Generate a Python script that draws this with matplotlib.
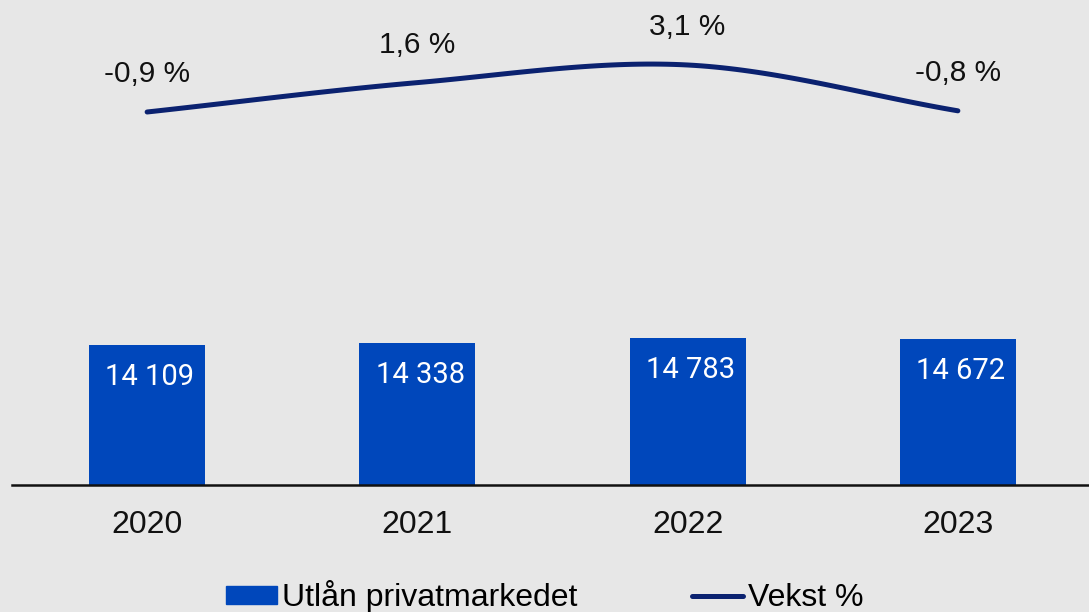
import numpy as np
import matplotlib
matplotlib.use("Agg")
import matplotlib.pyplot as plt
from matplotlib.patches import Patch
from matplotlib.lines import Line2D

years = ["2020", "2021", "2022", "2023"]
utlan = [14109, 14338, 14783, 14672]
vekst = [-0.9, 1.6, 3.1, -0.8]
utlan_labels = ["14 109", "14 338", "14 783", "14 672"]
vekst_labels = ["-0,9 %", "1,6 %", "3,1 %", "-0,8 %"]

bg = "#e7e7e7"
bar_color = "#0047bb"
line_color = "#0b2270"

plt.rcParams["font.family"] = ["Liberation Sans", "DejaVu Sans"]


def smooth(x, y, n=40):
    # catmull-rom style smoothing, like the spreadsheet "smoothed line"
    x = np.asarray(x, float)
    y = np.asarray(y, float)
    px = np.concatenate([[2 * x[0] - x[1]], x, [2 * x[-1] - x[-2]]])
    py = np.concatenate([[2 * y[0] - y[1]], y, [2 * y[-1] - y[-2]]])
    xs, ys = [], []
    for i in range(1, len(px) - 2):
        t = np.linspace(0, 1, n)
        for p, out in ((px, xs), (py, ys)):
            p0, p1, p2, p3 = p[i - 1], p[i], p[i + 1], p[i + 2]
            out.extend(0.5 * (2 * p1 + (-p0 + p2) * t
                              + (2 * p0 - 5 * p1 + 4 * p2 - p3) * t ** 2
                              + (-p0 + 3 * p1 - 3 * p2 + p3) * t ** 3))
    return np.array(xs), np.array(ys)


fig = plt.figure(figsize=(10.89, 6.12), dpi=100, facecolor=bg)
ax = fig.add_axes([12 / 1089, 1 - 485 / 612, 1081 / 1089, 485 / 612])
ax.set_facecolor(bg)

x = np.arange(len(years))
bars = ax.bar(x, utlan, width=0.43, color=bar_color, zorder=2)
ax.set_xlim(-0.5, len(years) - 0.5)
ax.set_ylim(0, 48800)
ax.set_xticks(x)
ax.set_xticklabels(years, fontsize=23, color="#111111")
ax.tick_params(axis="x", length=0, pad=18)
ax.set_yticks([])
for s in ["top", "right", "left"]:
    ax.spines[s].set_visible(False)
ax.spines["bottom"].set_linewidth(1.8)
ax.spines["bottom"].set_color("#111111")

for xi, v, lab in zip(x, utlan, utlan_labels):
    ax.annotate(lab, (xi, v), xytext=(2, -13), textcoords="offset points",
                ha="center", va="top", fontsize=21, color="white",
                family=["Roboto", "DejaVu Sans"])

ax2 = ax.twinx()
ax2.set_ylim(-32.64, 8.63)
ax2.axis("off")
sx, sy = smooth(x, vekst)
ax2.plot(sx, sy, color=line_color, lw=3.6, solid_capstyle="round")
for xi, v, lab in zip(x, vekst, vekst_labels):
    ax2.annotate(lab, (xi, v), xytext=(0, 27), textcoords="offset points",
                 ha="center", va="center", fontsize=21.5, color="#111111")

handles = [Patch(color=bar_color, label="Utlån privatmarkedet"),
           Line2D([0], [0], color=line_color, lw=3.6, label="Vekst %",
                  solid_capstyle="round")]
fig.legend(handles=handles, loc="center", bbox_to_anchor=(0.5, 0.025),
           ncol=2, frameon=False, fontsize=23, handlelength=1.6,
           handletextpad=0.15, columnspacing=3.6, handleheight=0.5)

fig.savefig("out.png", dpi=100, facecolor=bg)
